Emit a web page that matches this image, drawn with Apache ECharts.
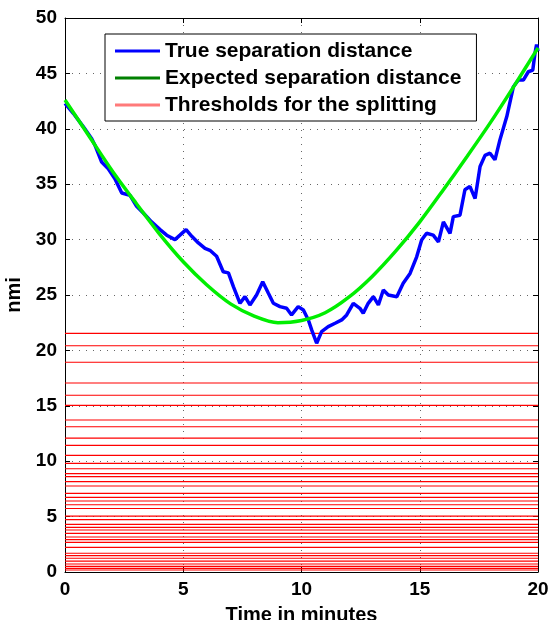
<!DOCTYPE html>
<html><head><meta charset="utf-8">
<script src="https://cdn.jsdelivr.net/npm/echarts@6/dist/echarts.min.js"></script>
<style>html,body{margin:0;padding:0;background:#fff}#c{width:549px;height:620px}</style>
</head><body><div id="c"></div>
<script>
// ---- data ----
const xMin = 0, xMax = 20, xStep = 5;
const yMin = 0, yMax = 50, yStep = 5;

const trueTime = [0,0.35,0.77,1.13,1.27,1.55,1.83,2.11,2.40,2.75,3.03,3.31,3.66,4.02,4.30,4.65,4.86,5.12,5.36,5.64,5.92,6.15,6.41,6.69,6.91,7.12,7.40,7.61,7.82,8.10,8.36,8.60,8.81,9.09,9.37,9.58,9.86,10.08,10.29,10.43,10.64,10.85,11.13,11.42,11.70,11.91,12.19,12.47,12.61,12.82,13.04,13.25,13.46,13.67,14.03,14.30,14.59,14.87,15.08,15.29,15.57,15.79,16.00,16.28,16.42,16.70,16.91,17.12,17.34,17.55,17.76,17.97,18.18,18.39,18.68,18.96,19.17,19.38,19.59,19.78,19.87,19.94,20.0];
const trueDist = [42.3,41.4,40.2,39.1,38.5,37.0,36.4,35.5,34.2,34.0,33.0,32.4,31.6,30.9,30.4,30.0,30.4,30.9,30.3,29.7,29.2,29.0,28.5,27.1,27.0,25.75,24.25,24.85,24.1,25.0,26.2,25.15,24.25,23.95,23.8,23.2,23.95,23.65,22.75,21.85,20.65,21.7,22.15,22.45,22.75,23.2,24.25,23.8,23.35,24.25,24.85,24.1,25.45,25.0,24.85,26.05,26.95,28.45,29.96,30.57,30.4,29.8,31.6,30.57,32.07,32.2,34.5,34.8,33.7,36.6,37.6,37.8,37.2,39.0,41.1,43.8,44.4,44.4,45.15,45.3,46.8,47.6,47.0];

const expTime = [0,1,2,3,4,5,6,7,8,9,10,11,12,13,14,15,16,17,18,19,20];
const expDist = [42.6,39.4,36.2,33.3,30.5,28.0,25.9,24.2,23.1,22.5,22.7,23.4,24.8,26.7,29.0,31.6,34.5,37.5,40.6,43.9,47.3];

const thresholds = [21.54,20.42,18.93,17.06,15.95,15.04,13.72,13.11,12.09,11.42,10.53,9.81,9.32,8.87,8.60,8.15,7.76,7.10,6.74,6.41,6.07,5.73,5.05,4.72,4.30,4.03,3.79,3.49,3.16,2.92,2.68,2.23,1.69,1.47,1.24,0.99,0.72,0.51,0.33,0.18];

const seriesNames = ['True separation distance','Expected separation distance','Thresholds for the splitting'];
const xTitle = 'Time in minutes';
const yTitle = 'nmi';

// ---- chart ----
const font = "'Liberation Sans', Arial, Helvetica, sans-serif";
const chart = echarts.init(document.getElementById('c'), null, {renderer:'canvas'});
const lblStyle = {fontFamily:font, fontWeight:'bold', fontSize:19, color:'#000'};
const lineBlack = {show:true, onZero:false, lineStyle:{color:'#000', width:1}};
const tickIn = {show:true, inside:true, length:5, lineStyle:{color:'#000', width:1}};
const grid = {show:true, lineStyle:{color:'#666', type:[1,6], width:1}};

// threshold segments (each a horizontal line across the time range), separated by gaps
const thresholdData = [];
thresholds.forEach(v => { thresholdData.push([xMin, v], [xMax, v], [null, null]); });

const option = {
  animation:false,
  backgroundColor:'#fff',
  grid:{left:65, right:11, top:18, bottom:48, containLabel:false, outerBoundsMode:'none'},
  legend:{
    orient:'vertical', left:105, top:34,
    itemWidth:45, itemHeight:3, itemGap:3,
    padding:[5,15,4,10],
    borderColor:'#000', borderWidth:1, backgroundColor:'#fff',
    textStyle:{fontFamily:font, fontWeight:'bold', fontSize:21, color:'#000', lineHeight:24},
    data:[
      {name:seriesNames[0], icon:'rect', itemStyle:{color:'#0000ff'}},
      {name:seriesNames[1], icon:'rect', itemStyle:{color:'#008000'}},
      {name:seriesNames[2], icon:'rect', itemStyle:{color:'#ff7a7a'}}
    ]
  },
  xAxis:[
    {type:'value', min:xMin, max:xMax, interval:xStep, position:'bottom',
     name:xTitle, nameLocation:'middle', nameGap:33,
     nameTextStyle:{fontFamily:font, fontWeight:'bold', fontSize:20, color:'#000'},
     axisLine:lineBlack, axisTick:tickIn,
     axisLabel:Object.assign({margin:8}, lblStyle),
     splitLine:grid},
    {type:'value', min:xMin, max:xMax, interval:xStep, position:'top',
     axisLine:lineBlack, axisTick:tickIn, axisLabel:{show:false}, splitLine:{show:false}}
  ],
  yAxis:[
    {type:'value', min:yMin, max:yMax, interval:yStep, position:'left',
     name:yTitle, nameLocation:'middle', nameGap:38,
     nameTextStyle:{fontFamily:font, fontWeight:'bold', fontSize:20, color:'#000'},
     axisLine:lineBlack, axisTick:tickIn,
     axisLabel:Object.assign({margin:8}, lblStyle),
     splitLine:grid},
    {type:'value', min:yMin, max:yMax, interval:yStep, position:'right',
     axisLine:lineBlack, axisTick:tickIn, axisLabel:{show:false}, splitLine:{show:false}}
  ],
  series:[
    {name:seriesNames[2], type:'line', symbol:'none', color:'#ff0000', z:1,
     connectNulls:false, silent:true,
     lineStyle:{color:'#ff0000', width:1.2},
     data:thresholdData},
    {name:seriesNames[0], type:'line', symbol:'none', color:'#0000ff', z:3,
     lineStyle:{color:'#0000ff', width:3.5},
     data:trueTime.map((t,i) => [t, trueDist[i]])},
    {name:seriesNames[1], type:'line', symbol:'none', smooth:0.3, color:'#00ff00', z:4,
     lineStyle:{color:'#00ee00', width:3.5},
     data:expTime.map((t,i) => [t, expDist[i]])}
  ]
};
chart.setOption(option);
</script>
</body></html>
